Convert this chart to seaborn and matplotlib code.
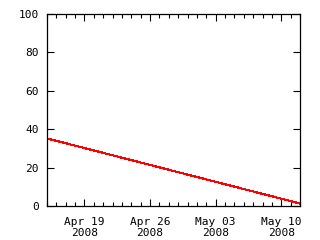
import matplotlib
matplotlib.use("Agg")
import matplotlib.pyplot as plt
import matplotlib.dates as mdates
import seaborn as sns
import pandas as pd
import numpy as np

# data
dates = ["2008-04-15", "2008-05-12"]
values = [35.2, 1.3]
y_ticks = [0, 20, 40, 60, 80, 100]
x_major = ["2008-04-19", "2008-04-26", "2008-05-03", "2008-05-10"]
x_limits = ["2008-04-15", "2008-05-12"]

sns.set_style("white")
plt.rcParams['font.family'] = ['DejaVu Sans Mono']

df = pd.DataFrame({"date": pd.to_datetime(dates), "value": values})

fig = plt.figure(figsize=(3.2, 2.4), dpi=100)
ax = fig.add_axes([47/320, 34/240, 253/320, 192/240])
sns.lineplot(data=df, x="date", y="value", color="red", linewidth=0.8, ax=ax, antialiased=False)

ax.set_xlim(pd.to_datetime(x_limits[0]), pd.to_datetime(x_limits[1]))
ax.set_ylim(0, 100)
ax.set_yticks(y_ticks)
ax.set_xticks(pd.to_datetime(x_major))
ax.xaxis.set_major_formatter(mdates.DateFormatter("%b %d\n%Y"))
ax.xaxis.set_minor_locator(mdates.DayLocator())
ax.set_xlabel("")
ax.set_ylabel("")
for s in ax.spines.values():
    s.set_color("black")
    s.set_linewidth(0.9)
ax.tick_params(axis="both", which="major", direction="in", length=5, width=0.8,
               colors="black", labelsize=8, top=True, right=True, bottom=True, left=True, pad=6)
ax.tick_params(axis="x", which="major", pad=8)
ax.tick_params(axis="x", which="minor", direction="in", length=3, width=0.8,
               colors="black", top=True, bottom=True)
for lab in ax.get_xticklabels():
    lab.set_horizontalalignment("center")
    lab.set_linespacing(1.1)

fig.savefig("out.png", dpi=100)
